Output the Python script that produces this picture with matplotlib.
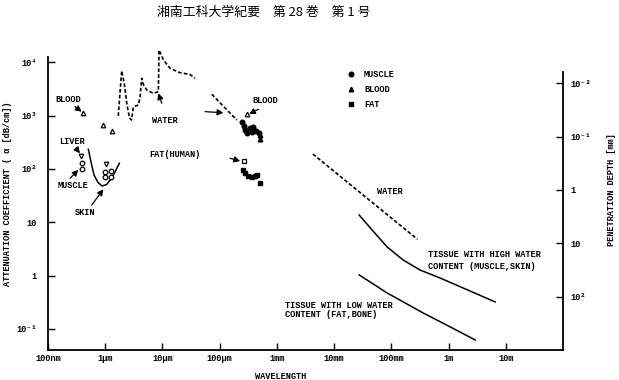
import matplotlib
matplotlib.use("Agg")
import matplotlib.pyplot as plt
from matplotlib.lines import Line2D

MONO = ['Liberation Mono', 'DejaVu Sans Mono']
FS = 6.2

# ---------------- data (wavelength in m, attenuation in dB/cm) ----------------
water_ir_wl = [1.69e-6, 1.94e-6, 2.17e-6, 2.40e-6, 2.66e-6, 2.88e-6, 3.10e-6, 3.79e-6, 4.06e-6,
               4.35e-6, 4.68e-6, 5.32e-6, 6.94e-6, 8.48e-6, 8.72e-6, 1.04e-5, 1.36e-5, 2.03e-5,
               3.04e-5, 3.72e-5]
water_ir_att = [990, 6980, 3770, 1590, 906, 830, 1456, 1590, 2245,
                5030, 3770, 3030, 2630, 2820, 17100, 11100, 7740, 6410,
                5930, 5030]
water_sub_wl = [7.28e-5, 1.99e-4]
water_sub_att = [2520, 830]
water_mw_wl = [4.25e-3, 0.286]
water_mw_att = [191, 4.8]

high_water_wl = [0.0274, 0.0461, 0.0845, 0.161, 0.318, 0.713, 1.80, 6.53]
high_water_att = [13.7, 7.18, 3.44, 1.96, 1.27, 0.90, 0.585, 0.32]
low_water_wl = [0.0274, 0.0845, 0.360, 1.067, 2.92]
low_water_att = [1.03, 0.472, 0.199, 0.109, 0.062]

skin_wl = [5.07e-7, 5.65e-7, 6.37e-7, 7.48e-7, 8.79e-7, 1.054e-6, 1.262e-6, 1.483e-6, 1.766e-6]
skin_att = [234, 135, 77, 56, 48, 51, 65, 88, 128]

blood_opt_wl = [4.14e-7, 9.27e-7, 1.32e-6]
blood_opt_att = [1138, 670, 516]
liver_opt_wl = [3.78e-7, 1.03e-6]
liver_opt_att = [175, 122]
muscle_opt_wl = [3.88e-7, 3.88e-7, 1.01e-6, 1.01e-6, 1.26e-6, 1.26e-6]
muscle_opt_att = [132, 100, 88, 70, 92, 72]

blood_mw_open_wl = [3.05e-4]
blood_mw_open_att = [1076]
muscle_mw_wl = [2.47e-4, 2.62e-4, 2.78e-4, 3.01e-4, 3.40e-4, 3.84e-4, 3.68e-4, 4.33e-4, 4.89e-4]
muscle_mw_att = [762, 641, 540, 474, 588, 614, 494, 516, 474]
blood_mw_wl = [5.08e-4, 5.08e-4]
blood_mw_att = [435, 373]
fat_open_wl = [2.67e-4]
fat_open_att = [141]
fat_mw_wl = [2.59e-4, 2.78e-4, 3.18e-4, 3.64e-4, 4.16e-4, 4.56e-4, 5.08e-4]
fat_mw_att = [96, 83, 74, 70, 74, 77, 54]

x_ticks = [1e-7, 1e-6, 1e-5, 1e-4, 1e-3, 1e-2, 1e-1, 1, 10]
x_labels = ['100nm', '1μm', '10μm', '100μm', '1mm', '10mm', '100mm', '1m', '10m']
y_ticks = [1e4, 1e3, 1e2, 10, 1, 0.1]
y_labels = ['10⁴', '10³', '10²', '10', '1', '10⁻¹']
depth_ticks = [1e-2, 1e-1, 1, 10, 100]
depth_labels = ['10⁻²', '10⁻¹', '1', '10', '10²']
K_DEPTH = 40.4  # depth [mm] = K / attenuation [dB/cm]

# ---------------- figure ----------------
fig = plt.figure(figsize=(6.19, 3.80), dpi=100)
ax = fig.add_axes([48/619, 1-350/380, 515/619, 302/380])

YLO, YHI = 10**-1.396, 10**4.27
ax.set_xscale('log'); ax.set_yscale('log')
ax.set_xlim(1e-7, 1e2)
ax.set_ylim(YLO, YHI)

dash = dict(color='black', lw=1.2, linestyle=(0, (2.2, 1.3)))
ax.plot(water_ir_wl, water_ir_att, **dash)
ax.plot(water_sub_wl, water_sub_att, **dash)
ax.plot(water_mw_wl, water_mw_att, **dash)
ax.plot(high_water_wl, high_water_att, color='black', lw=1.1)
ax.plot(low_water_wl, low_water_att, color='black', lw=1.1)
ax.plot(skin_wl, skin_att, color='black', lw=1.1)

ms = 3.3
ax.plot(blood_opt_wl, blood_opt_att, '^', ms=ms, mfc='white', mec='black', mew=0.9)
ax.plot(liver_opt_wl, liver_opt_att, 'v', ms=ms, mfc='white', mec='black', mew=0.9)
ax.plot(muscle_opt_wl, muscle_opt_att, 'o', ms=ms, mfc='white', mec='black', mew=0.9)
ax.plot(blood_mw_open_wl, blood_mw_open_att, '^', ms=ms, mfc='white', mec='black', mew=0.9)
ax.plot(fat_open_wl, fat_open_att, 's', ms=ms, mfc='white', mec='black', mew=0.9)
ax.plot(muscle_mw_wl, muscle_mw_att, 'o', ms=ms, color='black', ls='none')
ax.plot(blood_mw_wl, blood_mw_att, '^', ms=ms, color='black', ls='none')
ax.plot(fat_mw_wl, fat_mw_att, 's', ms=ms, color='black', ls='none')

# spines / ticks
ax.spines['top'].set_visible(False)
ax.spines['right'].set_visible(False)
for s in ('left', 'bottom'):
    ax.spines[s].set_linewidth(1.3)
ax.spines['left'].set_bounds(YLO, 10**4.10)

ax.set_xticks(x_ticks)
ax.set_xticklabels(x_labels, fontfamily=MONO, fontweight='bold', fontsize=FS)
ax.set_yticks(y_ticks)
ax.set_yticklabels(y_labels, fontfamily=MONO, fontweight='bold', fontsize=FS)
ax.minorticks_off()
ax.tick_params(axis='both', direction='in', length=5, width=1.0)
ax.tick_params(axis='x', pad=3)
ax.tick_params(axis='y', pad=8)

ax.set_xlabel('WAVELENGTH', fontfamily=MONO, fontweight='bold', fontsize=FS)
ax.xaxis.set_label_coords(0.452, -0.072)
ax.set_ylabel('ATTENUATION COEFFICIENT ( α [dB/cm])', fontfamily=MONO,
              fontweight='bold', fontsize=FS)
ax.yaxis.set_label_coords(-0.070, 0.517)

# right axis: penetration depth
ax2 = ax.twinx()
ax2.set_yscale('log')
ax2.set_ylim(K_DEPTH / YLO, K_DEPTH / YHI)
for s in ('left', 'top', 'bottom'):
    ax2.spines[s].set_visible(False)
ax2.spines['right'].set_linewidth(1.3)
ax2.spines['right'].set_bounds(K_DEPTH / YLO, K_DEPTH / 10**3.82)
ax2.set_yticks(depth_ticks)
ax2.set_yticklabels(depth_labels, fontfamily=MONO, fontweight='bold', fontsize=FS)
ax2.minorticks_off()
ax2.tick_params(axis='y', direction='in', length=5, width=1.0, pad=5)
ax2.set_ylabel('PENETRATION DEPTH [mm]', fontfamily=MONO, fontweight='bold', fontsize=FS)
ax2.yaxis.set_label_coords(1.085, 0.53)

# annotations
tk = dict(fontfamily=MONO, fontweight='bold', fontsize=FS, ha='center', va='center')
arr = dict(arrowstyle='-|>,head_length=0.35,head_width=0.18', color='black', lw=0.9,
           shrinkA=0, shrinkB=0)
ax.text(2.26e-7, 1970, 'BLOOD', **tk)
ax.annotate('', xy=(3.88e-7, 1190), xytext=(2.96e-7, 1480), arrowprops=arr)
ax.text(2.59e-7, 325, 'LIVER', **tk)
ax.annotate('', xy=(3.62e-7, 197), xytext=(3.09e-7, 244), arrowprops=arr)
ax.text(2.77e-7, 48, 'MUSCLE', **tk)
ax.annotate('', xy=(3.39e-7, 96), xytext=(2.43e-7, 67), arrowprops=arr)
ax.text(4.44e-7, 15.4, 'SKIN', **tk)
ax.annotate('', xy=(9.27e-7, 41.6), xytext=(5.81e-7, 21.1), arrowprops=arr)
ax.text(1.11e-5, 806, 'WATER', **tk)
ax.annotate('', xy=(8.48e-6, 2630), xytext=(9.73e-6, 1710), arrowprops=arr)
ax.text(1.66e-5, 189, 'FAT(HUMAN)', **tk)
ax.annotate('', xy=(1.16e-4, 1138), xytext=(5.56e-5, 1190), arrowprops=arr)
ax.annotate('', xy=(2.28e-4, 141), xytext=(1.52e-4, 159), arrowprops=arr)
ax.text(6.22e-4, 1888, 'BLOOD', **tk)
ax.annotate('', xy=(3.27e-4, 1076), xytext=(4.75e-4, 1318), arrowprops=arr)
ax.text(0.0927, 37.5, 'WATER', **tk)

tl = dict(fontfamily=MONO, fontweight='bold', fontsize=FS, ha='left', va='center')
ax.text(0.446, 2.44, 'TISSUE WITH HIGH WATER', **tl)
ax.text(0.446, 1.51, 'CONTENT (MUSCLE,SKIN)', **tl)
ax.text(1.39e-3, 0.279, 'TISSUE WITH LOW WATER', **tl)
ax.text(1.39e-3, 0.187, 'CONTENT (FAT,BONE)', **tl)

# legend
handles = [Line2D([], [], marker='o', color='black', ls='none', ms=ms),
           Line2D([], [], marker='^', color='black', ls='none', ms=ms),
           Line2D([], [], marker='s', color='black', ls='none', ms=ms)]
leg = ax.legend(handles, ['MUSCLE', 'BLOOD', 'FAT'], loc='upper left',
                bbox_to_anchor=(0.582, 0.926), frameon=False, handlelength=0.8,
                handletextpad=1.1, labelspacing=0.7, borderpad=0, borderaxespad=0,
                prop={'family': MONO, 'weight': 'bold', 'size': FS})

# title
fig.text(264/619, 1-12/380, '湘南工科大学紀要　第 28 巻　第 1 号',
         fontfamily=['Noto Sans CJK JP', 'DejaVu Sans'], fontsize=9.3, ha='center', va='center')

fig.savefig('out.png', dpi=100)
